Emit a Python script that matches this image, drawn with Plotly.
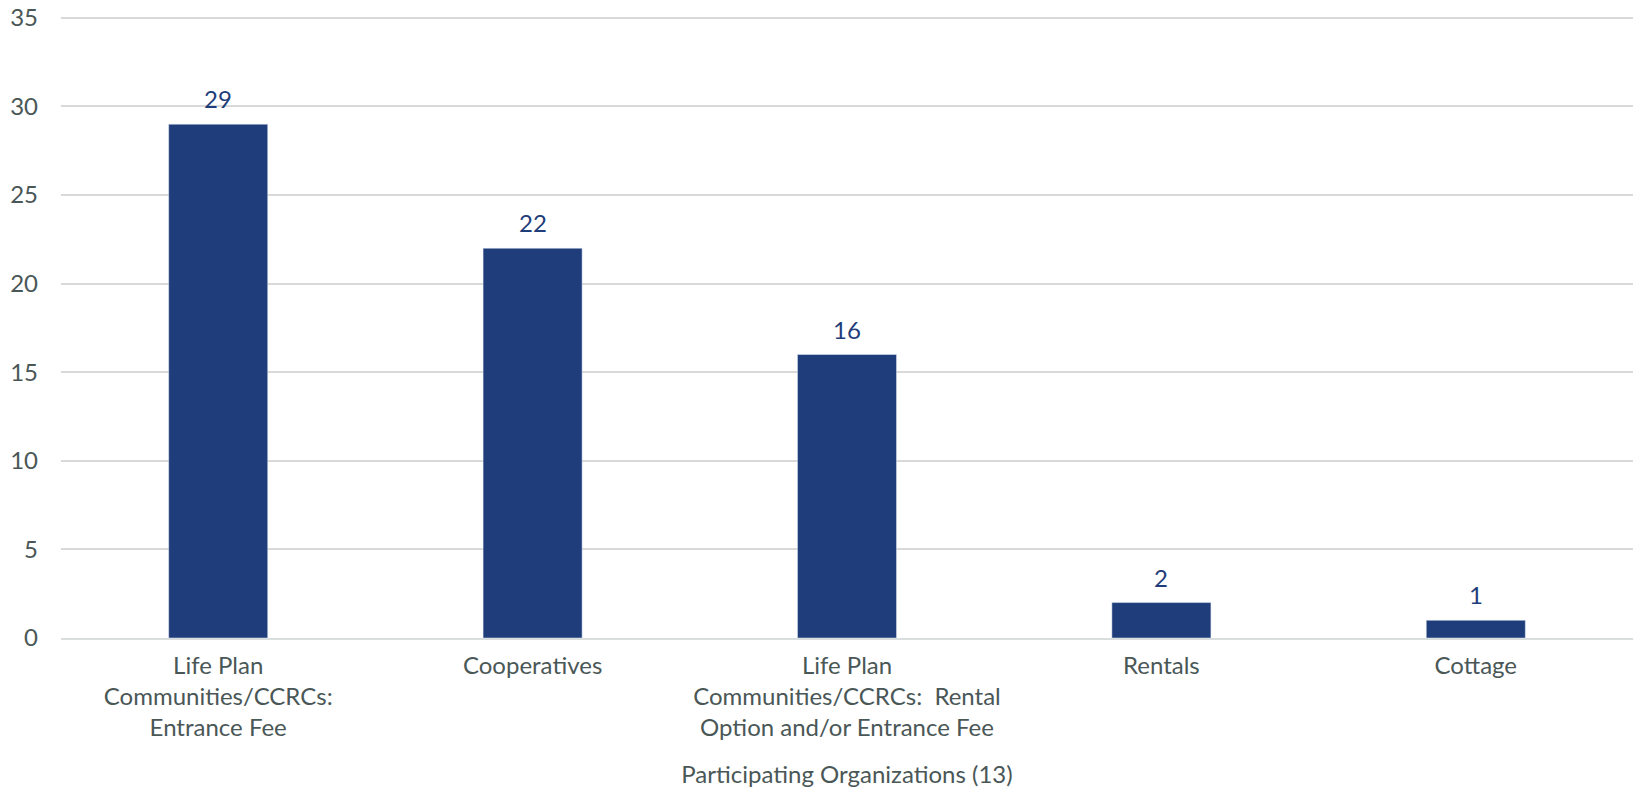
import plotly.graph_objects as go

categories = [
    "Life Plan<br>Communities/CCRCs:<br>Entrance Fee",
    "Cooperatives",
    "Life Plan<br>Communities/CCRCs:  Rental<br>Option and/or Entrance Fee",
    "Rentals",
    "Cottage",
]
values = [29, 22, 16, 2, 1]
y_ticks = [0, 5, 10, 15, 20, 25, 30, 35]
x_title = "Participating Organizations (13)"

bar_color = "#1F3D7A"
text_color = "#4A5757"
FS = 24

fig = go.Figure(
    go.Bar(
        x=categories,
        y=values,
        marker_color=bar_color,
        cliponaxis=False,
    )
)

for c, v in zip(categories, values):
    fig.add_annotation(
        x=c, y=v, text=str(v), showarrow=False,
        yanchor="bottom", yshift=9,
        font=dict(family="Lato", size=FS, color=bar_color),
    )

fig.update_layout(
    width=1633,
    height=789,
    margin=dict(l=61, r=0, t=14, b=151),
    paper_bgcolor="white",
    plot_bgcolor="white",
    bargap=0.685,
    font=dict(family="Lato", size=FS, color=text_color),
    showlegend=False,
)

fig.update_xaxes(
    showgrid=False,
    showline=True,
    linecolor="#D9DEDE",
    linewidth=2,
    ticklabelstandoff=5,
    tickfont=dict(family="Lato", size=FS, color=text_color),
    title=dict(text=x_title, font=dict(family="Lato", size=FS, color=text_color), standoff=26),
    ticks="",
)

fig.update_yaxes(
    range=[0, 35.22],
    tickvals=y_ticks,
    showgrid=True,
    gridcolor="#D9D9D9",
    gridwidth=1.5,
    zeroline=False,
    showline=False,
    ticks="",
    ticklabelstandoff=22,
    tickfont=dict(family="Lato", size=FS, color=text_color),
)

fig.write_html("out.html")
